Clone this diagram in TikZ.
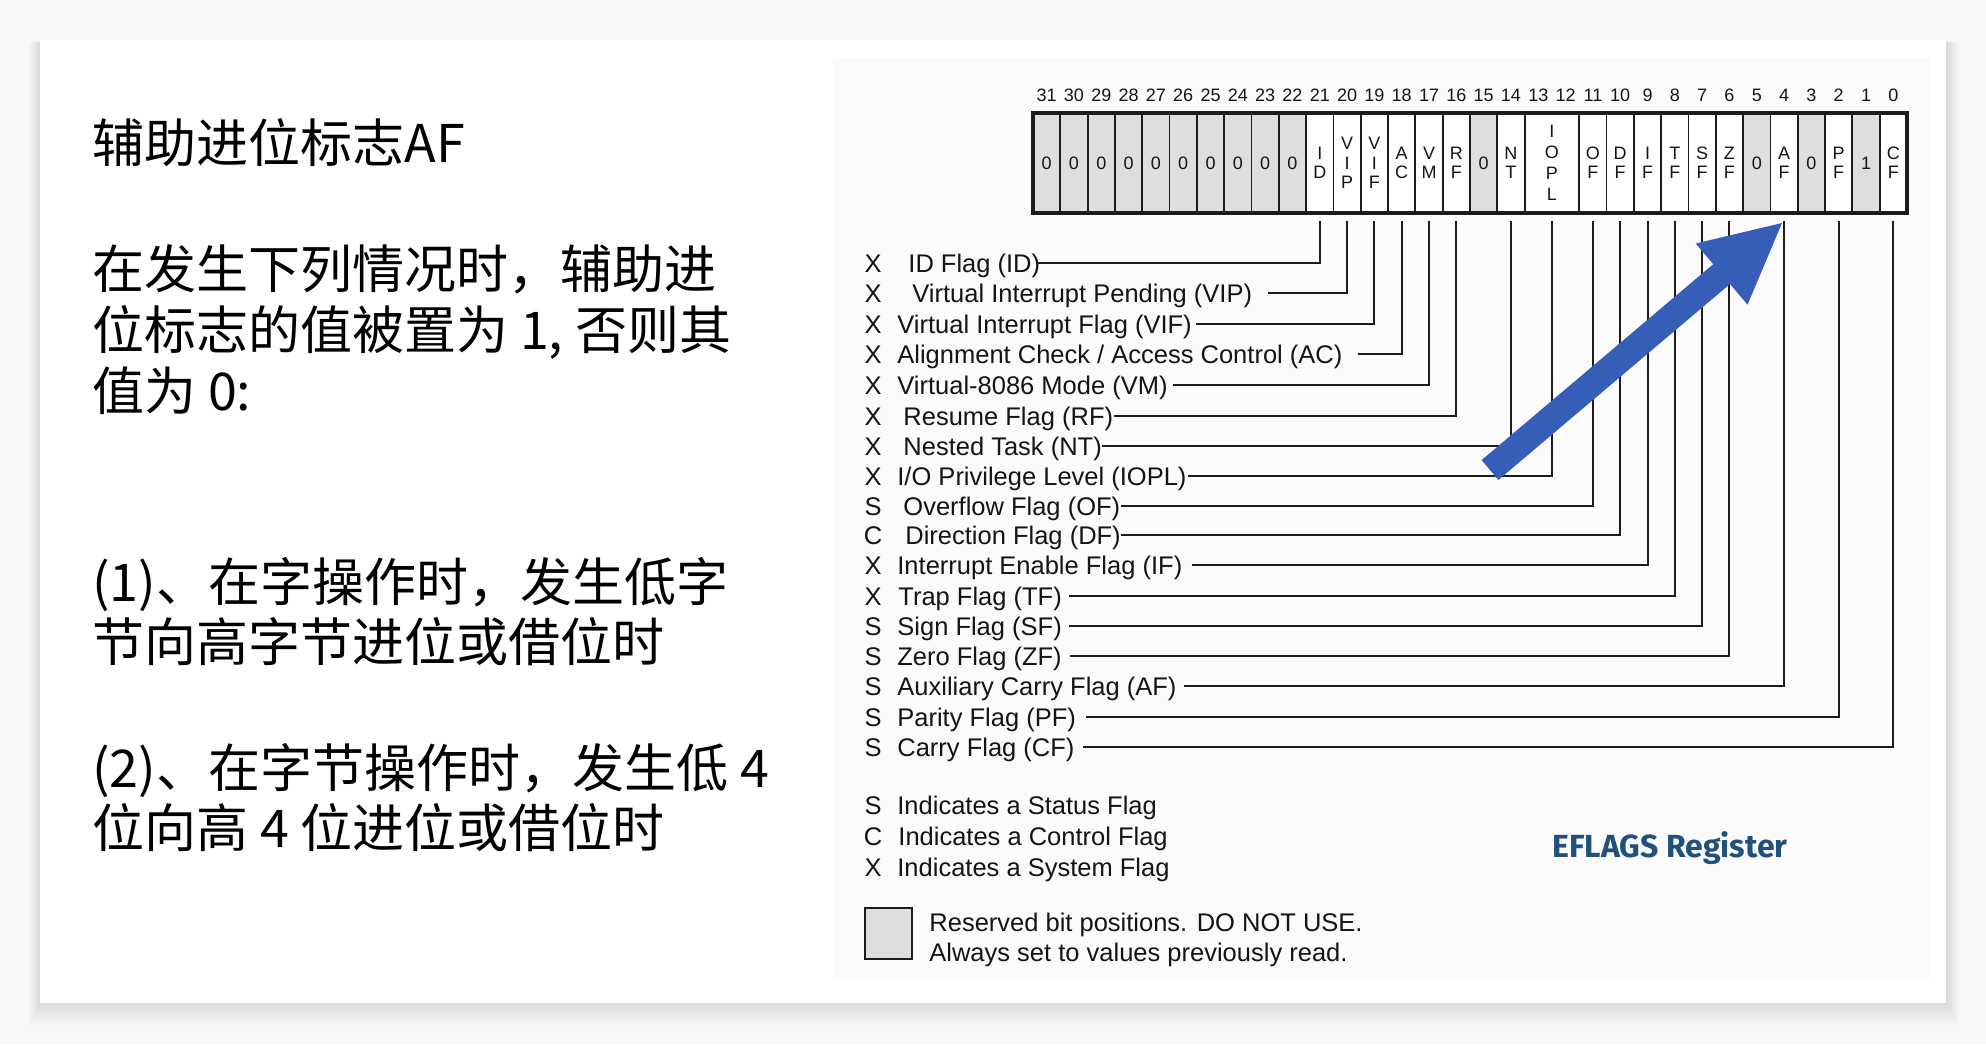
\documentclass[tikz,border=0pt]{standalone}
\usepackage{fontspec}
\setmainfont{Liberation Sans}
\newfontfamily\cjk{Noto Sans CJK SC}
\newfontfamily\eflfont{Fira Sans}
\usetikzlibrary{calc}
\definecolor{regfill}{RGB}{222,222,222}
\definecolor{arrowblue}{RGB}{54,93,184}
\definecolor{efblue}{RGB}{33,80,122}
\definecolor{linecol}{RGB}{28,28,28}
\definecolor{pagebg}{RGB}{247,247,247}
\definecolor{imgbg}{RGB}{251,251,252}
\definecolor{txt}{RGB}{20,20,20}
\tikzset{
  cell/.style={draw=linecol, line width=0.9pt, minimum width=13.656pt, minimum height=50pt,
    inner sep=0pt, align=center, text=txt, font=\fontsize{9pt}{9.6pt}\selectfont},
  bitnum/.style={inner sep=0pt, text height=6.5pt, text depth=0pt, text=txt,
    font=\fontsize{9pt}{10pt}\selectfont},
  flagletter/.style={inner sep=0pt, text height=9.2pt, text depth=0pt, text=txt,
    font=\fontsize{12.75pt}{14pt}\selectfont},
  flaglabel/.style={anchor=west, inner sep=0pt, text height=9.2pt, text depth=0pt, text=txt,
    font=\fontsize{12.75pt}{14pt}\selectfont},
  flagline/.style={draw=linecol, line width=1pt},
  cjktext/.style={anchor=base west, inner sep=0pt, text=black,
    font=\cjk\fontsize{26pt}{30pt}\selectfont},
}
\newcommand{\flagrow}[7]{%
  \node[flagletter] (L#1) at (873,#5) {#2};
  \node[flaglabel] (T#1) at (#4,#5) {#3};
  \draw[flagline] ([xshift=#6pt]T#1.east) -- (T#1.east -| c#7.south) -- ([yshift=-3.5pt]c#7.south);
}
\begin{document}
\begin{tikzpicture}[x=0.5pt,y=-0.5pt]
\useasboundingbox (0,0) rectangle (1986,1044);
% page background and card with shadow
\fill[pagebg] (0,0) rectangle (1986,1044);
\foreach \s in {1,...,14} {
  \fill[black, opacity=0.008] (40-\s*0.8, 40+\s*0.2) rectangle (1946+\s*0.9, 1003+\s*1.6);
}
\fill[white] (40,40) rectangle (1946,1003);
\fill[imgbg] (833,58) rectangle (1930,978);

% left text
\node[cjktext] (title) at (92,162) {辅助进位标志AF};
\node[cjktext] (p1a) at (92,288) {在发生下列情况时，辅助进};
\node[cjktext] (p1b) at (92,349) {位标志的值被置为 1, 否则其};
\node[cjktext] (p1c) at (92,410) {值为 0:};
\node[cjktext] (p2a) at (92,601) {(1)、在字操作时，发生低字};
\node[cjktext] (p2b) at (92,661) {节向高字节进位或借位时};
\node[cjktext] (p3a) at (92,787) {(2)、在字节操作时，发生低 4};
\node[cjktext] (p3b) at (92,847) {位向高 4 位进位或借位时};

% register cells
\foreach \b/\t/\g in {31/0/regfill,30/0/regfill,29/0/regfill,28/0/regfill,27/0/regfill,
  26/0/regfill,25/0/regfill,24/0/regfill,23/0/regfill,22/0/regfill,
  21/{I\\D}/white,20/{V\\I\\P}/white,19/{V\\I\\F}/white,18/{A\\C}/white,
  17/{V\\M}/white,16/{R\\F}/white,15/0/regfill,14/{N\\T}/white,
  11/{O\\F}/white,10/{D\\F}/white,9/{I\\F}/white,8/{T\\F}/white,
  7/{S\\F}/white,6/{Z\\F}/white,5/0/regfill,4/{A\\F}/white,
  3/0/regfill,2/{P\\F}/white,1/1/regfill,0/{C\\F}/white}
{
  \node[cell, fill=\g] (c\b) at ({1033+(31.5-\b)*27.3125},163) {\t};
}
\node[cell, fill=white, minimum width=27.3125pt] (c13) at ({1033+19*27.3125},163)
  {I\\[1pt]O\\[1pt]P\\[1pt]L};
\draw[linecol, line width=1.7pt] (1033,113) rectangle (1907,213);
\foreach \b in {0,...,31} {
  \node[bitnum] (n\b) at ({1033+(31.5-\b)*27.3125},95) {\b};
}

% flag rows
\flagrow{ID}{X}{ID Flag (ID)}{908}{263}{-2.5}{21}
\flagrow{VIP}{X}{Virtual Interrupt Pending (VIP)}{912}{293}{7.5}{20}
\flagrow{VIF}{X}{Virtual Interrupt Flag (VIF)}{897}{324}{2}{19}
\flagrow{AC}{X}{Alignment Check / Access Control (AC)}{897}{354}{7.5}{18}
\flagrow{VM}{X}{Virtual-8086 Mode (VM)}{897}{385}{2.5}{17}
\flagrow{RF}{X}{Resume Flag (RF)}{903}{416}{0}{16}
\flagrow{NT}{X}{Nested Task (NT)}{903}{446}{0}{14}
\flagrow{IOPL}{X}{I/O Privilege Level (IOPL)}{897}{476}{0.5}{13}
\flagrow{OF}{S}{Overflow Flag (OF)}{903}{506}{0}{11}
\flagrow{DF}{C}{Direction Flag (DF)}{905}{535}{0}{10}
\flagrow{IF}{X}{Interrupt Enable Flag (IF)}{897}{565}{4.5}{9}
\flagrow{TF}{X}{Trap Flag (TF)}{898}{596}{3.5}{8}
\flagrow{SF}{S}{Sign Flag (SF)}{897}{626}{3.5}{7}
\flagrow{ZF}{S}{Zero Flag (ZF)}{897}{656}{4}{6}
\flagrow{AF}{S}{Auxiliary Carry Flag (AF)}{897}{686}{3.5}{4}
\flagrow{PF}{S}{Parity Flag (PF)}{897}{717}{5}{2}
\flagrow{CF}{S}{Carry Flag (CF)}{897}{747}{4}{0}

% legend
\node[flagletter] (lgS) at (873,805) {S};
\node[flaglabel] (lgSt) at (897,805) {Indicates a Status Flag};
\node[flagletter] (lgC) at (873,836) {C};
\node[flaglabel] (lgCt) at (898,836) {Indicates a Control Flag};
\node[flagletter] (lgX) at (873,867) {X};
\node[flaglabel] (lgXt) at (897,867) {Indicates a System Flag};
\node[draw=linecol, line width=0.8pt, fill=regfill, minimum width=23.5pt, minimum height=25.5pt,
  inner sep=0pt] (resbox) at (888.5,933.5) {};
\node[flaglabel] (res1) at (929,922) {Reserved bit positions. DO NOT USE.};
\node[flaglabel] (res2) at (929,952) {Always set to values previously read.};

% EFLAGS title
\node[anchor=base west, inner sep=0pt, text=efblue, font=\eflfont\bfseries\fontsize{16pt}{18pt}\selectfont]
  (eflags) at (1552,857) {EFLAGS Register};

% blue arrow
\fill[arrowblue] (1481.6,460.1) -- (1713.2,264.2) -- (1695.7,243.5) -- (1782,223)
  -- (1747.5,304.7) -- (1730.0,284.0) -- (1498.4,479.9) -- cycle;
\end{tikzpicture}
\end{document}
